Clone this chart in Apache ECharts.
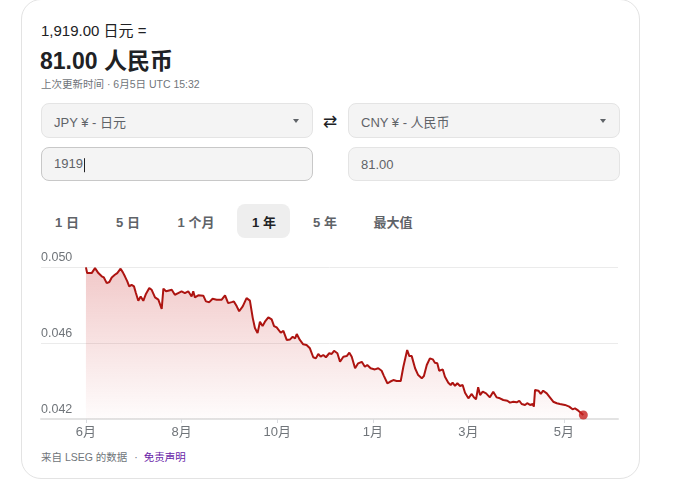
<!DOCTYPE html>
<html>
<head>
<meta charset="utf-8">
<script src="https://cdn.jsdelivr.net/npm/echarts@6/dist/echarts.min.js"></script>
<style>
  html, body { margin: 0; padding: 0; width: 680px; height: 482px; background: #fff; overflow: hidden; }
  body { font-family: Arial, "Liberation Sans", "Noto Sans CJK SC", sans-serif; position: relative; }
  .card { position: absolute; left: 21px; top: -1px; width: 619px; height: 480px; border: 1px solid #e3e3e3; border-radius: 20px; box-sizing: border-box; }
  .t { position: absolute; white-space: nowrap; }
  .box { position: absolute; box-sizing: border-box; border: 1px solid #e4e4e4; background: #f4f4f4; border-radius: 8px; }
  .box span { position: absolute; left: 12px; top: 50%; transform: translateY(-50%); font-size: 13px; color: #5f6368; }
  .caret { position: absolute; right: 13px; top: 15px; width: 0; height: 0; border-left: 3.5px solid transparent; border-right: 3.5px solid transparent; border-top: 4.5px solid #5f6368; }
  .tab { position: absolute; top: 212px; font-size: 13px; font-weight: bold; color: #5f6368; transform: translateX(-50%); white-space: nowrap; }
  #chart { position: absolute; left: 0; top: 0; width: 680px; height: 482px; }
</style>
</head>
<body>
<div class="card"></div>
<div class="t" style="left:41px;top:19px;font-size:15px;color:#202124;">1,919.00 日元 =</div>
<div class="t" style="left:40px;top:42px;font-size:23px;font-weight:bold;color:#202124;">81.00 人民币</div>
<div class="t" style="left:41px;top:76px;font-size:10.5px;color:#70757a;">上次更新时间 · 6月5日 UTC 15:32</div>

<div class="box" style="left:41px;top:103px;width:272px;height:35px;"><span>JPY ¥ - 日元</span><div class="caret"></div></div>
<div class="t" style="left:323px;top:111px;font-size:17px;color:#202124;font-family:'DejaVu Sans',sans-serif;">⇄</div>
<div class="box" style="left:348px;top:103px;width:272px;height:35px;"><span>CNY ¥ - 人民币</span><div class="caret"></div></div>

<div class="box" style="left:41px;top:147px;width:272px;height:34px;border-color:#c8c8c8;"><span style="color:#5f6368;">1919<span style="position:static;display:inline-block;width:1px;height:14px;background:#202124;vertical-align:middle;transform:none;margin-left:1px;"></span></span></div>
<div class="box" style="left:348px;top:147px;width:272px;height:34px;"><span style="color:#5f6368;">81.00</span></div>

<div style="position:absolute;left:237px;top:204px;width:53px;height:34px;background:#eeeeee;border-radius:8px;"></div>
<div class="tab" style="left:67px;">1 日</div>
<div class="tab" style="left:128px;">5 日</div>
<div class="tab" style="left:196px;">1 个月</div>
<div class="tab" style="left:264px;color:#202124;">1 年</div>
<div class="tab" style="left:325px;">5 年</div>
<div class="tab" style="left:393px;">最大值</div>

<div class="t" style="left:41px;top:449px;font-size:10.5px;color:#70757a;">来自 LSEG 的数据<span style="margin:0 6px 0 7px;">·</span><span style="color:#681da8;">免责声明</span></div>

<div id="chart"></div>
<script>
// Axis tick labels
const monthTicks = [0, 40, 80, 120, 160, 200];
const monthLabels = ['6月', '8月', '10月', '1月', '3月', '5月'];
const yMin = 0.042, yMax = 0.050, yStep = 0.004;

// Series: position along the time axis (trading-day units) and JPY->CNY rate
const tradingDay = [
  0, 0.5, 2.4, 3.8, 5.2, 6.6, 7.5, 8.7, 9.8, 10.8,
  12.1, 13.1, 14.5, 15.4, 16.3, 17.3, 18.1, 19.1, 20.1, 20.9,
  21.9, 22.9, 24.0, 25.1, 26.5, 27.5, 28.9, 30.3, 31.7, 32.4,
  33.5, 34.4, 35.9, 37.2, 38.6, 40.0, 41.4, 42.8, 44.2, 44.9,
  45.6, 47.0, 49.1, 50.2, 51.6, 53.0, 54.7, 56.8, 58.2, 59.5,
  61.0, 61.9, 63.1, 64.1, 65.6, 67.2, 68.6, 69.8, 70.7, 71.8,
  72.8, 73.9, 74.9, 76.3, 77.7, 78.7, 79.8, 81.5, 82.6, 84.0,
  85.4, 86.5, 87.5, 88.2, 89.5, 90.9, 92.3, 93.7, 95.1, 96.2,
  97.2, 98.2, 99.3, 100.4, 101.8, 102.8, 103.8, 105.2, 106.3, 107.7,
  109.1, 110.2, 111.2, 112.6, 113.9, 115.4, 116.7, 117.7, 119.1, 120.9,
  122.3, 123.7, 124.7, 126.1, 127.2, 128.6, 130.0, 131.7, 132.8, 134.4,
  135.3, 136.3, 137.7, 139.0, 140.5, 141.4, 142.6, 143.9, 145.1, 146.0,
  147.0, 147.8, 149.3, 150.2, 151.6, 152.6, 153.4, 154.4, 155.4, 156.5,
  157.6, 158.6, 160.0, 161.4, 162.3, 163.2, 164.1, 164.9, 166.0, 167.4,
  169.0, 170.4, 171.8, 173.2, 174.6, 176.3, 177.4, 178.8, 180.2, 181.3,
  182.3, 183.7, 184.6, 185.8, 186.9, 187.4, 187.9, 189.3, 190.3, 191.3,
  192.8, 194.1, 195.5, 197.0, 198.3, 200.4, 202.2, 203.6, 204.6, 206.0, 208.1
];
const rates = [
  0.04998, 0.04968, 0.04968, 0.04994, 0.04968, 0.04951, 0.04945, 0.04915, 0.04921, 0.04945,
  0.04959, 0.04968, 0.04991, 0.04973, 0.04951, 0.04924, 0.04898, 0.04906, 0.04898, 0.04863,
  0.04822, 0.04845, 0.04822, 0.04858, 0.04889, 0.04880, 0.04840, 0.04828, 0.04779, 0.04886,
  0.04872, 0.04875, 0.04880, 0.04854, 0.04863, 0.04872, 0.04863, 0.04872, 0.04845, 0.04872,
  0.04840, 0.04851, 0.04849, 0.04819, 0.04815, 0.04833, 0.04828, 0.04828, 0.04851, 0.04810,
  0.04815, 0.04819, 0.04793, 0.04767, 0.04793, 0.04836, 0.04823, 0.04731, 0.04679, 0.04652,
  0.04712, 0.04689, 0.04712, 0.04735, 0.04724, 0.04689, 0.04682, 0.04654, 0.04664, 0.04616,
  0.04619, 0.04633, 0.04624, 0.04647, 0.04616, 0.04593, 0.04589, 0.04572, 0.04525, 0.04519,
  0.04542, 0.04528, 0.04537, 0.04525, 0.04546, 0.04542, 0.04559, 0.04546, 0.04501, 0.04528,
  0.04531, 0.04549, 0.04528, 0.04467, 0.04493, 0.04501, 0.04475, 0.04484, 0.04467, 0.04461,
  0.04467, 0.04454, 0.04426, 0.04388, 0.04396, 0.04405, 0.04400, 0.04400, 0.04475, 0.04563,
  0.04531, 0.04531, 0.04467, 0.04431, 0.04414, 0.04426, 0.04484, 0.04519, 0.04514, 0.04496,
  0.04493, 0.04454, 0.04461, 0.04422, 0.04391, 0.04379, 0.04391, 0.04374, 0.04388, 0.04374,
  0.04379, 0.04338, 0.04309, 0.04332, 0.04314, 0.04304, 0.04367, 0.04326, 0.04344, 0.04335,
  0.04314, 0.04344, 0.04314, 0.04309, 0.04300, 0.04296, 0.04286, 0.04291, 0.04288, 0.04296,
  0.04279, 0.04274, 0.04283, 0.04274, 0.04279, 0.04265, 0.04353, 0.04349, 0.04332, 0.04349,
  0.04335, 0.04314, 0.04291, 0.04283, 0.04279, 0.04274, 0.04265, 0.04251, 0.04256, 0.04244, 0.04221
];

const lineData = tradingDay.map((d, i) => [d, rates[i]]);
const last = lineData[lineData.length - 1];

const chart = echarts.init(document.getElementById('chart'), null, { renderer: 'canvas' });
chart.setOption({
  animation: false,
  backgroundColor: 'transparent',
  grid: { left: 41, right: 62, top: 267, bottom: 63, containLabel: false, outerBoundsMode: 'none' },
  xAxis: {
    type: 'value',
    min: -18.8,
    max: 222.6,
    axisLine: { show: true, lineStyle: { color: '#e3e3e3', width: 2 } },
    axisTick: { show: true, customValues: monthTicks, length: 4, lineStyle: { color: '#dadce0', width: 1 } },
    axisLabel: {
      customValues: monthTicks,
      margin: 7,
      fontSize: 13,
      color: '#70757a',
      fontFamily: 'Arial, "Liberation Sans", "Noto Sans CJK SC", sans-serif',
      formatter: v => monthLabels[monthTicks.indexOf(Math.round(v))] || ''
    },
    splitLine: { show: false }
  },
  yAxis: {
    type: 'value',
    min: yMin,
    max: yMax,
    interval: yStep,
    axisLine: { show: false },
    axisTick: { show: false },
    axisLabel: {
      inside: true,
      margin: 0,
      verticalAlign: 'bottom',
      lineHeight: 14,
      padding: [0, 0, 2, 0],
      fontSize: 12.5,
      color: '#70757a',
      fontFamily: 'Arial, "Liberation Sans", sans-serif',
      formatter: v => v.toFixed(3)
    },
    splitLine: { show: true, lineStyle: { color: '#ebebeb', width: 1 } }
  },
  series: [
    {
      type: 'line',
      data: lineData,
      symbol: 'none',
      lineStyle: { color: '#ad1411', width: 2 },
      areaStyle: {
        color: new echarts.graphic.LinearGradient(0, 0, 0, 1, [
          { offset: 0, color: 'rgba(200, 40, 40, 0.36)' },
          { offset: 1, color: 'rgba(200, 40, 40, 0.02)' }
        ])
      },
      z: 2
    },
    {
      type: 'scatter',
      data: [last],
      symbol: 'circle',
      symbolSize: 9,
      itemStyle: { color: '#c5221f' },
      z: 3
    }
  ]
});
</script>
</body>
</html>
